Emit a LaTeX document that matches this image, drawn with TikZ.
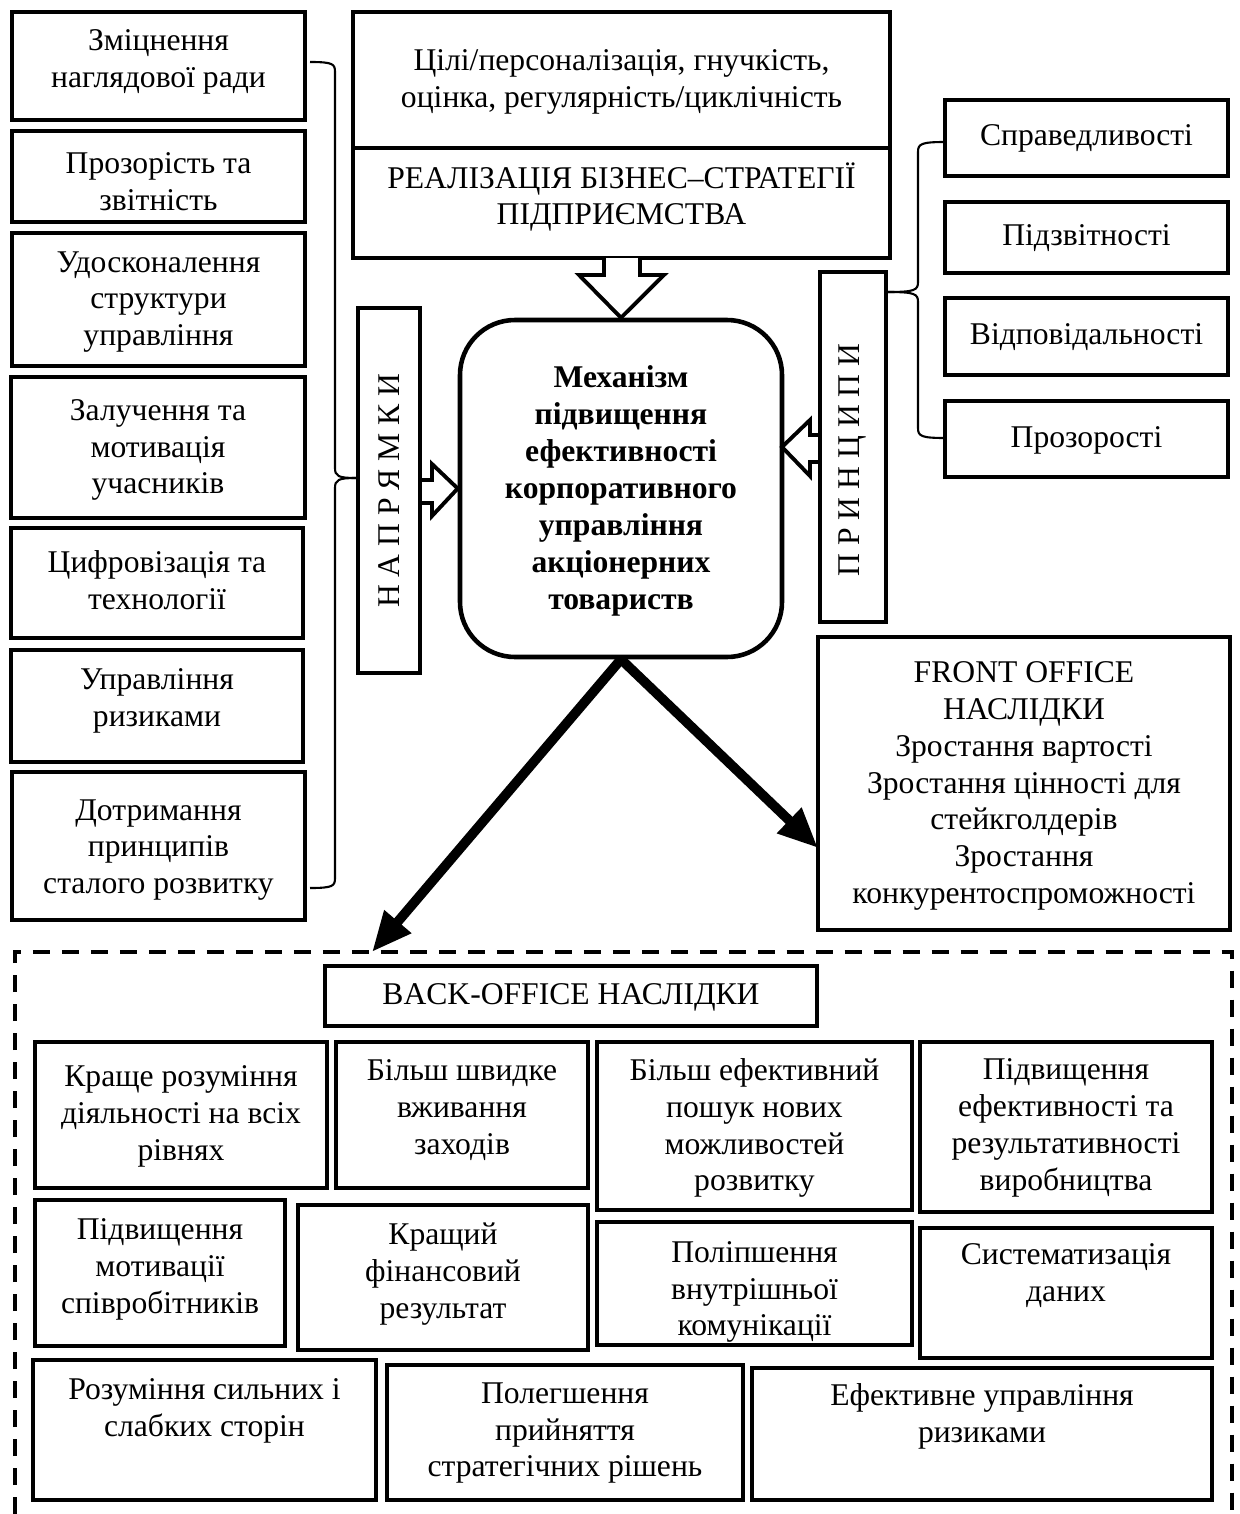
\documentclass[tikz,border=0pt]{standalone}
\usepackage{fontspec}
\setmainfont{Liberation Serif}
\usetikzlibrary{arrows.meta,fit,calc}

% rectangle node spanning two corners, plus its text block
\newcommand\cellbox[7]{%
  \path (#2,#3) coordinate (#1-nw) (#4,#5) coordinate (#1-se);
  \node[box, fit=(#1-nw)(#1-se)] (#1) {};
  \node[txt] (#1-t) at ({(#2+#4)/2},#6) {#7};
}

\begin{document}
\begin{tikzpicture}[x=0.02cm,y=-0.02cm,
  box/.style={draw, line width=2.4pt, inner sep=0pt, fill=white},
  txt/.style={align=center, inner sep=0pt, font=\fontsize{18}{21}\selectfont},
  bold/.style={txt, font=\fontsize{18}{21}\selectfont\bfseries},
  blockarrow/.style={draw, line width=2.2pt, fill=white, line join=miter},
  bigarrow/.style={line width=5.5pt, -{Triangle[length=0.8cm,width=0.66cm]}},
  bracket/.style={line width=1.2pt},
  frame/.style={line width=2.2pt, dash pattern=on 0.34cm off 0.24cm}]

\useasboundingbox (0,0) rectangle (1240,1514);

% ---- left column: directions ----
\cellbox{l1}{12}{12}{305}{120}{62}{Зміцнення\\наглядової ради}
\cellbox{l2}{12}{131}{305}{222}{182}{Прозорість та\\звітність}
\cellbox{l3}{12}{233}{305}{366}{302}{Удосконалення\\структури\\управління}
\cellbox{l4}{11}{377}{305}{518}{450}{Залучення та\\мотивація\\учасників}
\cellbox{l5}{11}{528}{303}{638}{580}{Цифровізація та\\технології}
\cellbox{l6}{11}{650}{303}{762}{701}{Управління\\ризиками}
\cellbox{l7}{12}{772}{305}{920}{850}{Дотримання\\принципів\\сталого розвитку}

% ---- top: goals and strategy ----
\cellbox{goal}{353}{12}{890}{148}{82}{Цілі/персоналізація, гнучкість,\\оцінка, регулярність/циклічність}
\cellbox{strat}{353}{148}{890}{258}{197}{РЕАЛІЗАЦІЯ БІЗНЕС–СТРАТЕГІЇ\\ПІДПРИЄМСТВА}

% ---- vertical labels ----
\cellbox{napr}{358}{308}{420}{673}{490}{}
\node[txt, rotate=90] (napr-l) at (napr.center) {Н А П Р Я М К И};
\cellbox{princ}{820}{272}{886}{622}{447}{}
\node[txt, rotate=90] (princ-l) at (853,460) {П Р И Н Ц И П И};

% ---- central mechanism ----
\path (460,320) coordinate (mech-nw) (782,657) coordinate (mech-se);
\node[draw, line width=2.6pt, rounded corners=1.1cm, inner sep=0pt,
      fit=(mech-nw)(mech-se)] (mech) {};
\node[bold] (mech-t) at (621,491) {Механізм\\підвищення\\ефективності\\корпоративного\\управління\\акціонерних\\товариств};

% ---- right column: principles ----
\cellbox{p1}{945}{100}{1228}{176}{138}{Справедливості}
\cellbox{p2}{945}{202}{1228}{273}{238}{Підзвітності}
\cellbox{p3}{945}{298}{1228}{375}{337}{Відповідальності}
\cellbox{p4}{945}{401}{1228}{477}{440}{Прозорості}

% ---- front office ----
\cellbox{front}{818}{637}{1230}{930}{786}{FRONT OFFICE\\НАСЛІДКИ\\Зростання вартості\\Зростання цінності для\\стейкголдерів\\Зростання\\конкурентоспроможності}

% ---- back office ----
\draw[frame] (15,1514) -- (15,952) -- (1232,952) -- (1232,1514);
\coordinate (backtop) at (372,952);
\cellbox{back}{325}{966}{817}{1026}{997}{BACK-OFFICE НАСЛІДКИ}

\cellbox{b1}{35}{1042}{327}{1188}{1116}{Краще розуміння\\діяльності на всіх\\рівнях}
\cellbox{b2}{336}{1042}{588}{1188}{1110}{Більш швидке\\вживання\\заходів}
\cellbox{b3}{597}{1042}{912}{1210}{1128}{Більш ефективний\\пошук нових\\можливостей\\розвитку}
\cellbox{b4}{920}{1042}{1212}{1212}{1128}{Підвищення\\ефективності та\\результативності\\виробництва}
\cellbox{b5}{35}{1200}{285}{1346}{1269}{Підвищення\\мотивації\\співробітників}
\cellbox{b6}{298}{1205}{588}{1350}{1274}{Кращий\\фінансовий\\результат}
\cellbox{b7}{597}{1222}{912}{1345}{1292}{Поліпшення\\внутрішньої\\комунікації}
\cellbox{b8}{920}{1228}{1212}{1358}{1276}{Систематизація\\даних}
\cellbox{b9}{33}{1360}{376}{1500}{1411}{Розуміння сильних і\\слабких сторін}
\cellbox{b10}{387}{1365}{743}{1500}{1433}{Полегшення\\прийняття\\стратегічних рішень}
\cellbox{b11}{752}{1368}{1212}{1500}{1416}{Ефективне управління\\ризиками}

% ---- block arrows into the mechanism ----
\draw[blockarrow] (604,258) -- (604,275) -- (579,275) -- (mech.north)
  -- (664,275) -- (640,275) -- (640,258);
\draw[blockarrow] (napr.east |- 0,480) -- (432,480) -- (432,464) -- (mech.west)
  -- (432,516) -- (432,503) -- (napr.east |- 0,503);
\coordinate (mech-r) at (782,447);
\draw[blockarrow] (princ.west |- 0,435) -- (810,435) -- (810,420) -- (mech-r)
  -- (810,476) -- (810,462) -- (princ.west |- 0,462);

% ---- braces ----
\coordinate (lb-top) at (310,62);
\coordinate (lb-bot) at (310,888);
\coordinate (lb-tip) at (napr.west |- 0,478);
\draw[bracket] (lb-top) .. controls (333,62) and (335,64) .. (335,72)
  -- (335,468) .. controls (335,476) and (338,478) .. (lb-tip);
\draw[bracket] (lb-tip) .. controls (338,478) and (335,480) .. (335,488)
  -- (335,878) .. controls (335,886) and (333,888) .. (lb-bot);
\coordinate (rb-top) at (945,142);
\coordinate (rb-bot) at (945,438);
\coordinate (rb-tip) at (princ.east |- 0,292);
\draw[bracket] (rb-top) .. controls (921,142) and (918,144) .. (918,152)
  -- (918,282) .. controls (918,290) and (915,292) .. (rb-tip);
\draw[bracket] (rb-tip) .. controls (915,292) and (918,294) .. (918,302)
  -- (918,428) .. controls (918,436) and (921,438) .. (rb-bot);

% ---- outcome arrows ----
\coordinate (front-in) at (818,848);
\draw[bigarrow] (mech.south) -- (backtop);
\draw[bigarrow] (mech.south) -- (front-in);

\end{tikzpicture}
\end{document}
